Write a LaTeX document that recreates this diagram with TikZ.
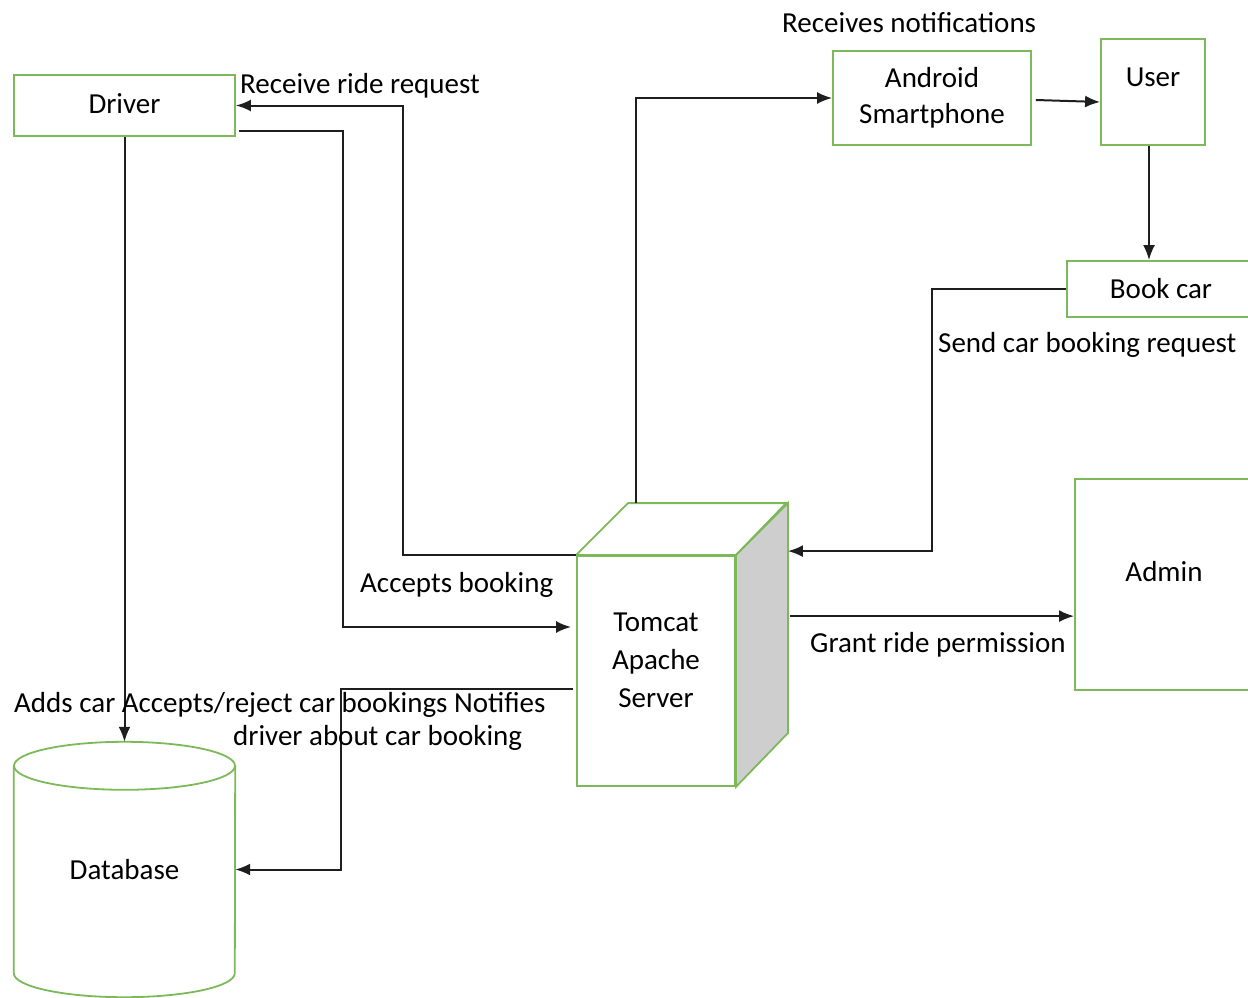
\documentclass[tikz,border=0pt]{standalone}
\usepackage{fontspec}
\setmainfont{Carlito}
\usetikzlibrary{arrows.meta}
\definecolor{boxgreen}{RGB}{125,185,90}
\definecolor{srvgray}{RGB}{206,206,206}
\definecolor{linegray}{RGB}{30,30,30}

\begin{document}
\begin{tikzpicture}[x=1pt, y=-1pt,
	font=\fontsize{29}{38}\selectfont,
	box/.style={draw=boxgreen, line width=1.8pt, fill=white},
	arrow/.style={-{Latex[length=15pt,width=12pt]}, line width=2pt, draw=linegray},
	lbl/.style={inner sep=0pt, anchor=base west}]
	\useasboundingbox (0,0) rectangle (1248,998);
	\clip (0,0) rectangle (1248,998);

	% boxes
	\node[box, minimum width=221pt, minimum height=61pt, text depth=4pt] (driver) at (124.5,105.5) {Driver};
	\node[box, minimum width=198pt, minimum height=94pt, align=center, font=\fontsize{29}{36}\selectfont] (android) at (932,98) {Android\\Smartphone};
	\node[box, minimum width=104pt, minimum height=106pt] (user) at (1153,92) {};
	\node (usertext) at ([yshift=15pt]user.center) {User};
	\node[box, minimum width=188pt, minimum height=56pt] (book) at (1161,289) {Book car};
	\node[box, minimum width=178pt, minimum height=211pt] (admin) at (1164,584.5) {};
	\node (admintext) at ([yshift=13pt]admin.center) {Admin};

	% server cube
	\node[box, minimum width=158pt, minimum height=230pt] (srv) at (656,671) {};
	\filldraw[box] (srv.north west) -- ++(52,-52) -- ++(158,0) -- (srv.north east) -- cycle;
	\filldraw[box, fill=srvgray] (srv.north east) -- ++(52,-52) -- ++(0,230) -- (srv.south east) -- cycle;
	\node[align=center] (srvtext) at ([yshift=11pt]srv.center) {Tomcat\\Apache\\Server};
	\coordinate (srvtop) at ([xshift=60pt,yshift=52pt]srv.north west);
	\coordinate (srvback) at ([xshift=52pt,yshift=52pt]srv.north east);

	% database
	\node[minimum width=221pt, minimum height=255pt, inner sep=0pt] (db) at (124.5,869.5) {Database};
	\draw[draw=boxgreen, line width=1.8pt] ([yshift=-24pt]db.north) ellipse [x radius=110.5pt, y radius=24pt];
	\draw[draw=boxgreen, line width=1.8pt] ([yshift=-24pt]db.north west) -- ([yshift=24pt]db.south west)
		arc[start angle=180, end angle=360, x radius=110.5pt, y radius=24pt] -- ([yshift=-24pt]db.north east);

	% connectors
	\draw[arrow] (srv.north west) -- ++(-173,0) |- (driver.east);
	\draw[arrow] ([xshift=3pt,yshift=6pt]driver.south east) -- ++(104,0) |- ([xshift=-5pt,yshift=44pt]srv.west);
	\draw[arrow] (driver.south) -- (db.north);
	\draw[arrow] ([xshift=-3pt,yshift=-18pt]srv.west) -- ++(-232,0) |- (db.east);
	\draw[arrow] (srvtop) |- (android.west);
	\draw[arrow] ([xshift=4pt,yshift=-2pt]android.east) -- ([yshift=-10pt]user.west);
	\coordinate (ubot) at ([xshift=-4pt]user.south);
	\draw[arrow] (ubot) -- (ubot |- book.north);
	\draw[arrow] (book.west) -- ++(-134,0) |- ([yshift=-48pt]srvback);
	\coordinate (grant) at ([xshift=2pt,yshift=-113pt]srvback);
	\draw[arrow] (grant) -- (grant -| admin.west);

	% labels
	\node[lbl] (lblride) at (240,93) {Receive ride request};
	\node[lbl] (lblnotify) at (782,33) {Receives notifications};
	\node[lbl] (lblaccept) at (360,592) {Accepts booking};
	\node[lbl] (lblsend) at (938,352) {Send car booking request};
	\node[lbl] (lblgrant) at (810,652) {Grant ride permission};
	\node[lbl] (lbladds) at (14,712) {Adds car Accepts/reject car bookings Notifies};
	\node[lbl] (lbldriver) at (233,745) {driver about car booking};
\end{tikzpicture}
\end{document}
